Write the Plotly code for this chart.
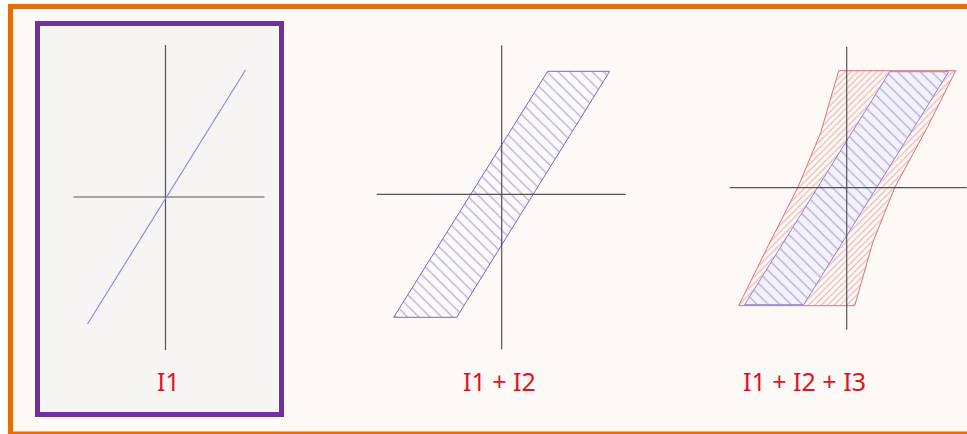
import plotly.graph_objects as go

W, H = 967, 434

# Shapes are given in units relative to each panel's own origin (y up)
# I1 : single straight line
i1_x = [-78, 80]
i1_y = [-127, 127]

# I1 + I2 : hatched parallelogram
i12_x = [46, 108, -45, -108, 46]
i12_y = [123, 123, -123, -123, 123]

# I1 + I2 + I3 : outer (red) loop and inner (blue) band
i123_outer_x = [-8, 109, 81, 48, 26, 8, -108, -80, -49, -26, -8]
i123_outer_y = [117, 117, 61, 0, -55, -118, -118, -61, 0, 55, 117]
i123_inner_x = [43, 102, -43, -102, 43]
i123_inner_y = [116, 116, -117, -117, 116]

# axis extents (left, right, bottom, top) for each panel
axes_p1 = [-92, 99, -153, 152]
axes_p2 = [-125, 124, -155, 149]
axes_p3 = [-117, 120, -142, 141]

labels = ["I1", "I1 + I2", "I1 + I2 + I3"]

# panel origins in figure pixels (from bottom-left)
origins = [(165.5, 237), (501.7, 239.7), (846.7, 246.3)]
label_x = [168, 499, 804]
label_y = 53

AXIS_COLOR = "#545454"
BLUE = "#6e6cd8"
RED = "#dc7474"


def shift(xs, ys, o):
    sx = [None if v is None else o[0] + v for v in xs]
    sy = [None if v is None else o[1] + v for v in ys]
    return sx, sy


def add_cross(fig, ext, o):
    l, r, b, t = ext
    x, y = shift([l, r, None, 0, 0], [0, 0, None, b, t], o)
    fig.add_trace(go.Scatter(x=x, y=y, mode="lines",
                             line=dict(color=AXIS_COLOR, width=1.2),
                             hoverinfo="skip", showlegend=False))


fig = go.Figure()

# panel 1
add_cross(fig, axes_p1, origins[0])
x, y = shift(i1_x, i1_y, origins[0])
fig.add_trace(go.Scatter(x=x, y=y, mode="lines",
                         line=dict(color="#8f8de3", width=1.2),
                         hoverinfo="skip", showlegend=False))

# panel 2
x, y = shift(i12_x, i12_y, origins[1])
fig.add_trace(go.Scatter(x=x, y=y, mode="lines", fill="toself",
                         fillcolor="rgba(0,0,0,0)",
                         fillpattern=dict(shape="\\", size=8, solidity=0.17,
                                          fgcolor=BLUE, bgcolor="rgba(0,0,0,0)"),
                         line=dict(color=BLUE, width=1),
                         hoverinfo="skip", showlegend=False))
add_cross(fig, axes_p2, origins[1])

# panel 3
x, y = shift(i123_outer_x, i123_outer_y, origins[2])
fig.add_trace(go.Scatter(x=x, y=y, mode="lines", fill="toself",
                         fillcolor="rgba(0,0,0,0)",
                         fillpattern=dict(shape="/", size=4.5, solidity=0.26,
                                          fgcolor=RED, bgcolor="rgba(0,0,0,0)"),
                         line=dict(color=RED, width=1),
                         hoverinfo="skip", showlegend=False))
x, y = shift(i123_inner_x, i123_inner_y, origins[2])
fig.add_trace(go.Scatter(x=x, y=y, mode="lines", fill="toself",
                         fillcolor="#f4f2f8",
                         fillpattern=dict(shape="\\", size=8, solidity=0.17,
                                          fgcolor=BLUE, bgcolor="#f4f2f8"),
                         line=dict(color="#8f86d6", width=1),
                         hoverinfo="skip", showlegend=False))
add_cross(fig, axes_p3, origins[2])

for lx, txt in zip(label_x, labels):
    fig.add_annotation(x=lx, y=label_y, text=txt, showarrow=False,
                       font=dict(family="Noto Sans", size=25, color="#e4121b"))

fig.update_layout(
    width=W, height=H,
    margin=dict(l=0, r=0, t=0, b=0),
    paper_bgcolor="white",
    plot_bgcolor="rgba(0,0,0,0)",
    xaxis=dict(range=[0, W], visible=False, fixedrange=True),
    yaxis=dict(range=[0, H], visible=False, fixedrange=True),
    shapes=[
        dict(type="rect", xref="x", yref="y", x0=10.5, x1=975, y0=0, y1=427.5,
             line=dict(color="#e46c0a", width=5), fillcolor="#fdf9f6", layer="below"),
        dict(type="rect", xref="x", yref="y", x0=37.5, x1=281.5, y0=19.5, y1=410.5,
             line=dict(color="#7030a0", width=5), fillcolor="#f6f5f3", layer="below"),
    ],
)

# page body has a default 8px margin; drop it so the figure fills the window
fig.write_html("out.html", config={"displayModeBar": False},
               post_script="document.body.style.margin='0';")
